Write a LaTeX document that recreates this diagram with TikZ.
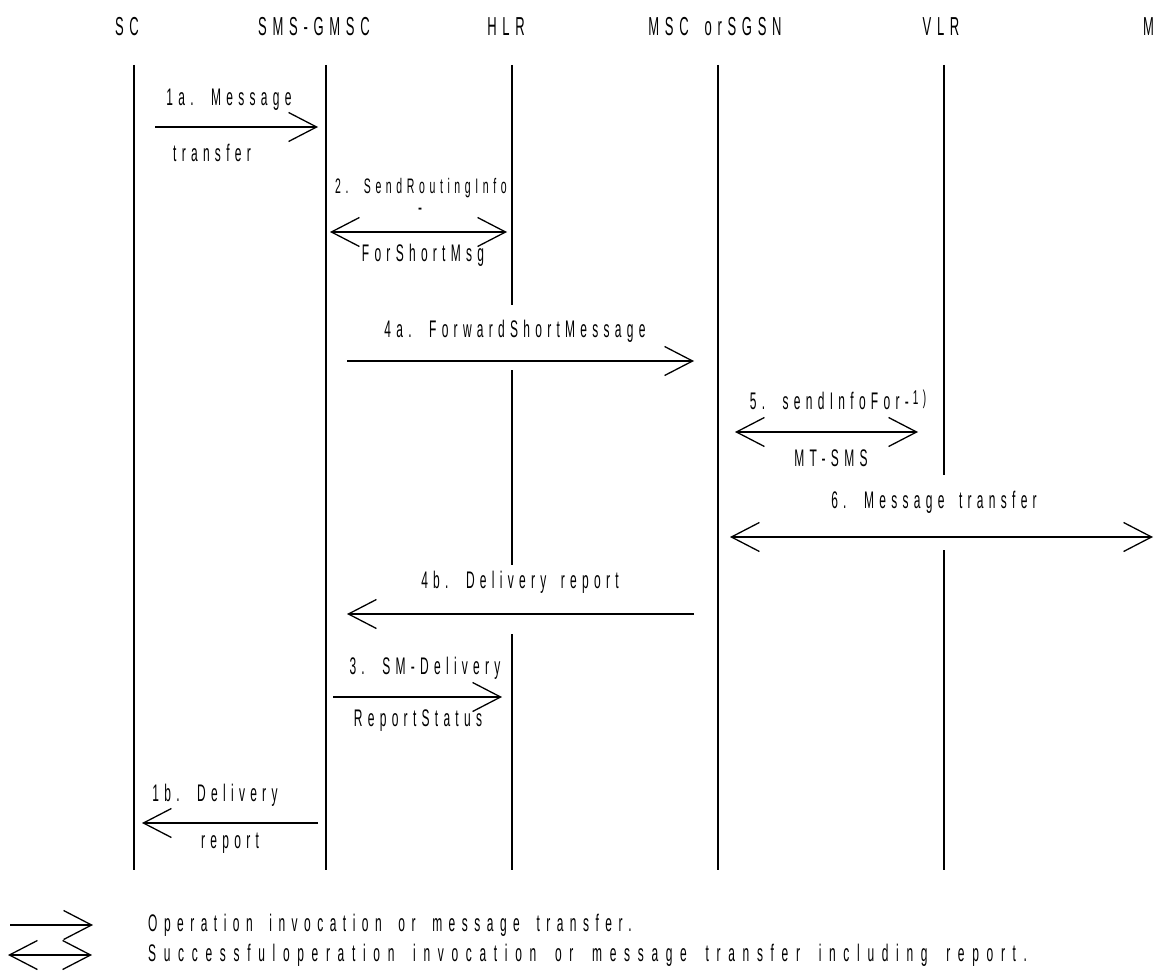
\documentclass[tikz,border=0pt]{standalone}
\usepackage{fontspec}
\usetikzlibrary{arrows.meta}
\newfontfamily\condfont{Liberation Sans}[FakeStretch=0.5,LetterSpace=22,WordSpace=1.7]
\newfontfamily\midcondfont{Liberation Sans}[FakeStretch=0.5,LetterSpace=27,WordSpace=1.7]
\newfontfamily\widecondfont{Liberation Sans}[FakeStretch=0.5,LetterSpace=32,WordSpace=1.7]
\newcommand\lblfont{\condfont\fontsize{24}{26}\selectfont}
\newcommand\headfont{\condfont\fontsize{26}{28}\selectfont}
\tikzset{
  lifeline/.style={line width=1.3pt},
  msg/.style={line width=1.3pt,-{Straight Barb[length=28pt,width=29pt]}},
  dmsg/.style={line width=1.3pt,{Straight Barb[length=28pt,width=29pt]}-{Straight Barb[length=28pt,width=29pt]}},
  lbl/.style={font=\lblfont,inner sep=0pt},
  head/.style={font=\headfont,inner sep=0pt}
}
\begin{document}
\begin{tikzpicture}[x=1pt,y=-1pt]
\useasboundingbox (0,0) rectangle (1162,971);
% entities
\node[head] (sc) at (127,27) {SC};
\node[head] (gmsc) at (314,27) {SMS-GMSC};
\node[head] (hlr) at (506,27) {HLR};
\node[head] (msc) at (715,27) {MSC orSGSN};
\node[head] (vlr) at (941,27) {VLR};
\node[head,anchor=west] (ms) at (1143,27) {M};
% lifelines
\foreach \n/\x in {sc/134,gmsc/326,hlr/512,msc/718,vlr/944} {
  \coordinate (\n-top) at (\x,65);
  \coordinate (\n-bot) at (\x,870);
}
\draw[lifeline] (sc-top) -- (sc-bot);
\draw[lifeline] (gmsc-top) -- (gmsc-bot);
\draw[lifeline] (msc-top) -- (msc-bot);
\draw[lifeline] (hlr-top) -- (hlr-top |- 0,305);
\draw[lifeline] (hlr-top |- 0,370) -- (hlr-top |- 0,565);
\draw[lifeline] (hlr-top |- 0,634) -- (hlr-bot);
\draw[lifeline] (vlr-top) -- (vlr-top |- 0,475);
\draw[lifeline] (vlr-top |- 0,550) -- (vlr-bot);
% 1a
\coordinate (m1a-s) at (155,127);
\coordinate (m1a-e) at (318,127);
\draw[msg] (m1a-s) -- (m1a-e);
\node[lbl] (l1a) at (229,100) {1a. Message};
\node[lbl] (l1a-b) at (212,153) {transfer};
% 2
\coordinate (m2-s) at (330,232);
\coordinate (m2-e) at (507,232);
\draw[dmsg] (m2-s) -- (m2-e);
\node[lbl,font=\condfont\fontsize{21}{23}\selectfont] (l2) at (421,188) {2. SendRoutingInfo};
\node[lbl] (l2-d) at (420,212) {-};
\node[lbl] (l2-b) at (423,255) {ForShortMsg};
% 4a
\coordinate (m4a-s) at (347,361);
\coordinate (m4a-e) at (694,361);
\draw[msg] (m4a-s) -- (m4a-e);
\node[lbl] (l4a) at (515,331) {4a. ForwardShortMessage};
% 5
\coordinate (m5-s) at (735,432);
\coordinate (m5-e) at (918,432);
\draw[dmsg] (m5-s) -- (m5-e);
\node[lbl] (l5) at (838,400) {5. sendInfoFor-\,\raisebox{5pt}{\fontsize{20}{22}\selectfont 1)}};
\node[lbl] (l5-b) at (831,458) {MT-SMS};
% 6
\coordinate (m6-s) at (730,537);
\coordinate (m6-e) at (1153,537);
\draw[dmsg] (m6-s) -- (m6-e);
\node[lbl] (l6) at (934,502) {6. Message transfer};
% 4b
\coordinate (m4b-s) at (694,614);
\coordinate (m4b-e) at (347,614);
\draw[msg] (m4b-s) -- (m4b-e);
\node[lbl] (l4b) at (520,582) {4b. Delivery report};
% 3
\coordinate (m3-s) at (333,697);
\coordinate (m3-e) at (502,697);
\draw[msg] (m3-s) -- (m3-e);
\node[lbl] (l3) at (425,668) {3. SM-Delivery};
\node[lbl] (l3-b) at (418,721) {ReportStatus};
% 1b
\coordinate (m1b-s) at (318,823);
\coordinate (m1b-e) at (142,823);
\draw[msg] (m1b-s) -- (m1b-e);
\node[lbl] (l1b) at (215,795) {1b. Delivery};
\node[lbl] (l1b-b) at (230,843) {report};
% legend
\coordinate (k1-s) at (10,925);
\coordinate (k1-e) at (93,925);
\draw[msg] (k1-s) -- (k1-e);
\node[lbl,anchor=west,font=\midcondfont\fontsize{24}{26}\selectfont] (k1) at (148,925) {Operation invocation or message transfer.};
\coordinate (k2-s) at (8,955);
\coordinate (k2-e) at (92,955);
\draw[dmsg] (k2-s) -- (k2-e);
\node[lbl,anchor=west,font=\widecondfont\fontsize{24}{26}\selectfont] (k2) at (148,955) {Successfuloperation invocation or message transfer including report.};
\end{tikzpicture}
\end{document}
